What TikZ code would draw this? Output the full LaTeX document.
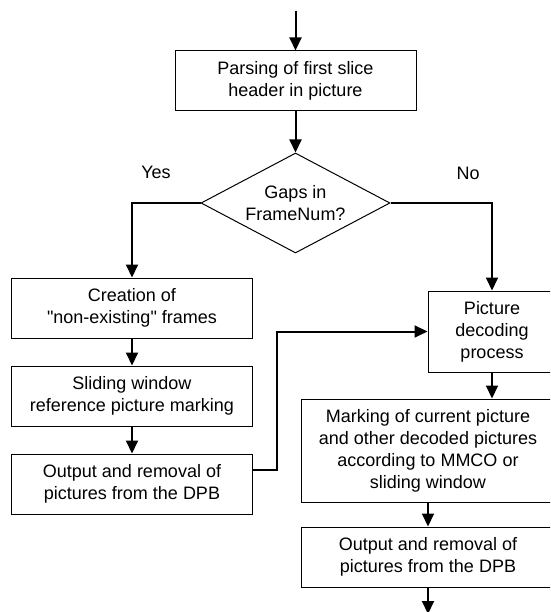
\documentclass[tikz,border=0pt]{standalone}
\usepackage{fontspec}
\setmainfont{Liberation Sans}
\usetikzlibrary{shapes.geometric,arrows.meta}

\begin{document}
\begin{tikzpicture}[x=1pt, y=-1pt]
\tikzstyle{every node} = [font=\fontsize{18}{22}\selectfont]
\tikzstyle{box} = [draw, line width=1pt, rectangle, align=center, inner sep=0pt]
\tikzstyle{flow} = [line width=2pt, -{Triangle[length=13pt,width=12pt]}]
\useasboundingbox (0,0) rectangle (550,612);
\clip (0,0) rectangle (550,612);

\coordinate (in) at (295.5, 11);
\node[box, minimum width=241, minimum height=60] (parse) at (295.5, 81) {Parsing of first slice\\header in picture};
\node[draw, line width=1pt, diamond, aspect=1.89, inner sep=0pt, align=center,
      minimum width=189, minimum height=100] (gaps) at (295.5, 203) {Gaps in\\FrameNum?};
\node (yes) at (156, 172) {Yes};
\node (no) at (468, 173) {No};

\node[box, minimum width=241, minimum height=60] (create) at (132, 308) {Creation of\\\textquotedbl non-existing\textquotedbl{} frames};
\node[box, minimum width=241, minimum height=60] (slide) at (132, 396) {Sliding window\\reference picture marking};
\node[box, minimum width=241, minimum height=60] (outl) at (132, 484) {Output and removal of\\pictures from the DPB};

\node[box, minimum width=128, minimum height=81] (decode) at (492, 331.5) {Picture\\decoding\\process};
\node[box, minimum width=254, minimum height=103] (mark) at (428, 450.5) {Marking of current picture\\and other decoded pictures\\according to MMCO or\\sliding window};
\node[box, minimum width=254, minimum height=60] (outr) at (428, 557) {Output and removal of\\pictures from the DPB};
\coordinate (out) at (428, 614);

\draw [flow] (in) -- (parse);
\draw [flow] (parse) -- (gaps);
\draw [flow] (gaps.west) -| (create.north);
\draw [flow] (gaps.east) -| (decode.north);
\draw [flow] (create) -- (slide);
\draw [flow] (slide) -- (outl);
\draw [flow] ([yshift=14pt]outl.east) -- ++(24,0) |- (decode.west);
\draw [flow] (decode.south) -- (decode.south |- mark.north);
\draw [flow] (mark) -- (outr);
\draw [flow] (outr) -- (out);
\end{tikzpicture}
\end{document}
